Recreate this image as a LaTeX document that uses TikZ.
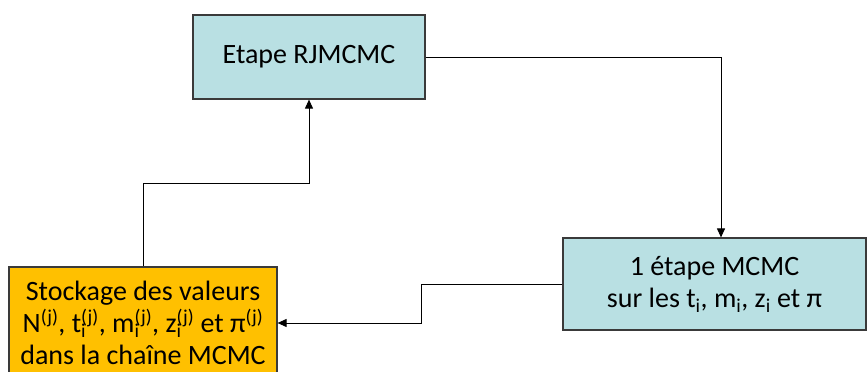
\documentclass[tikz,border=0pt]{standalone}
\usepackage{fontspec}
\setmainfont{Carlito}
\usetikzlibrary{arrows.meta}
\definecolor{boxblue}{HTML}{B9E0E3}
\definecolor{boxorange}{HTML}{FFC000}
\definecolor{edge}{HTML}{3A3A3A}
\newcommand{\sbsp}[2]{\rlap{\textsubscript{#1}}\textsuperscript{#2}}
\begin{document}
\begin{tikzpicture}[x=1pt,y=-1pt,
  box/.style={draw=edge,line width=1.2pt,inner sep=0pt,align=center,
    font=\fontsize{28}{32}\selectfont},
  conn/.style={draw=black,line width=1pt,-{Triangle[length=9pt,width=8pt]}}]
\useasboundingbox (0,0) rectangle (868,372);
\clip (0,0) rectangle (868,372);
\node[box,fill=boxblue,minimum width=232pt,minimum height=84pt] (rj) at (309,57) {Etape RJMCMC};
\node[box,fill=boxblue,minimum width=303pt,minimum height=92pt] (mc) at (714.5,284) {1 étape MCMC\\sur les t\textsubscript{i}, m\textsubscript{i}, z\textsubscript{i} et π};
\node[box,fill=boxorange,minimum width=268pt,minimum height=112pt] (st) at (143,323) {Stockage des valeurs\\N\textsuperscript{(j)}, t\sbsp{i}{(j)}, m\sbsp{i}{(j)}, z\sbsp{i}{(j)} et π\textsuperscript{(j)}\\dans la chaîne MCMC};
\coordinate (a1) at (721,57);
\coordinate (b1) at (421,284);
\coordinate (b2) at (421,323);
\coordinate (c1) at (143,183);
\coordinate (c2) at (309,183);
\draw[conn] (rj.east) -- (a1) -- (a1 |- mc.north);
\draw[conn] (mc.west) -- (b1) -- (b2) -- (st.east);
\draw[conn] (st.north) -- (c1) -- (c2) -- (rj.south);
\end{tikzpicture}
\end{document}
